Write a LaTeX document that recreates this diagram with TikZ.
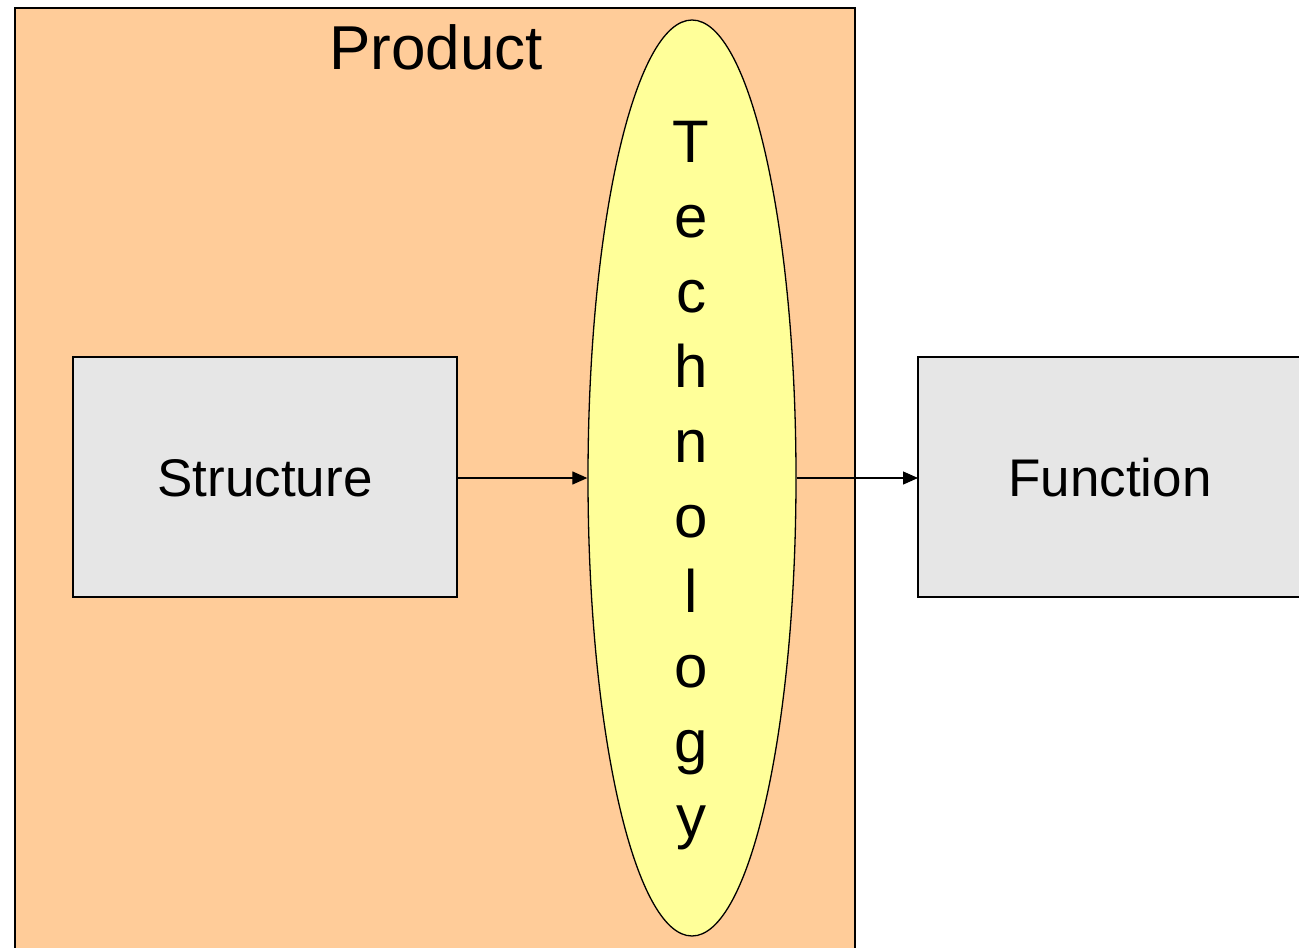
\documentclass[tikz,border=0pt]{standalone}
\usepackage{fontspec}
\setmainfont{Liberation Sans}
\usetikzlibrary{shapes.geometric,arrows.meta}
\definecolor{productfill}{HTML}{FFCC99}
\definecolor{boxfill}{HTML}{E6E6E6}
\definecolor{techfill}{HTML}{FFFF99}
\begin{document}
\begin{tikzpicture}[x=1pt,y=-1pt,
  outline/.style={draw=black,line width=1.6pt},
  greybox/.style={draw=black,line width=1.3pt,fill=boxfill},
  link/.style={draw=black,line width=1.2pt,-{Triangle[length=15pt,width=13pt]}},
  label/.style={font=\fontsize{53}{63}\selectfont,inner sep=0pt}]
\useasboundingbox (0,0) rectangle (1299,948);
\clip (0,0) rectangle (1299,948);
% product region
\path[outline,fill=productfill] (15,8) rectangle (855,960);
\node[label,font=\fontsize{62}{72}\selectfont] (product) at (436,47) {Product};
% structure and function boxes
\path[greybox] (73,357) rectangle (457,597);
\node[label] (structure) at (265,478) {Structure};
\path[greybox] (918,357) rectangle (1320,597);
\node[label] (function) at (1110,478) {Function};
\coordinate (sright) at (457,478);
\coordinate (fleft) at (918,478);
% technology ellipse
\node[ellipse,draw=black,line width=1.3pt,fill=techfill,minimum width=208pt,minimum height=916pt,inner sep=0pt] (tech) at (692,478) {};
\node[font=\fontsize{60}{75}\selectfont,align=center,inner sep=0pt] (techtext) at (691,486)
  {T\\e\\c\\h\\n\\o\\l\\o\\g\\y};
% connectors
\draw[link] (sright) -- (tech.west);
\draw[link] (tech.east) -- (fleft);
\end{tikzpicture}
\end{document}
